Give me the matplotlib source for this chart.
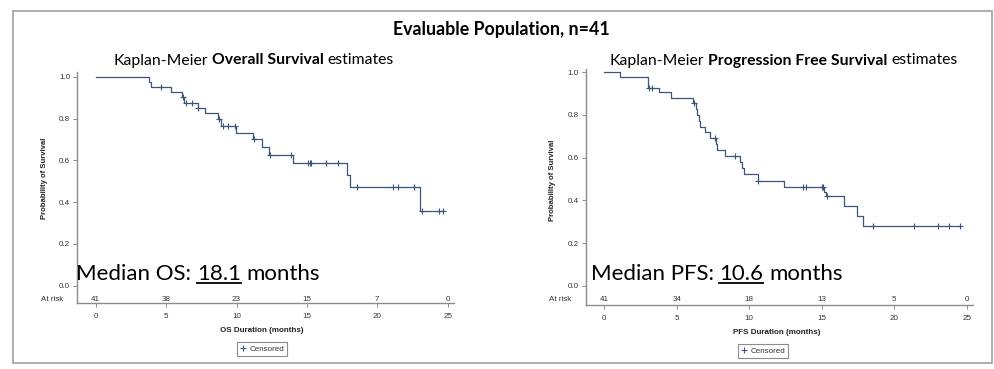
import matplotlib
matplotlib.use("Agg")
import matplotlib.pyplot as plt
import matplotlib.transforms as mtransforms
from matplotlib.lines import Line2D
from matplotlib.patches import Rectangle
import numpy as np

# --- datos ---
risk_times = [0, 5, 10, 15, 20, 25]

# Overall Survival
os_event_t = [3.81, 3.93, 5.32, 6.15, 6.25, 7.24, 7.76, 8.66, 8.87, 9.94,
              11.2, 11.81, 12.33, 14.03, 17.87, 18.08, 23.03]
os_event_s = [0.976, 0.953, 0.927, 0.901, 0.876, 0.852, 0.825, 0.796, 0.764, 0.732,
              0.702, 0.665, 0.627, 0.587, 0.531, 0.471, 0.356]
os_cens_t = [4.62, 6.2, 6.4, 6.83, 7.3, 8.78, 9.06, 9.39, 9.9, 11.27, 12.4, 13.85,
             15.1, 15.22, 15.31, 16.33, 17.23, 18.58, 21.09, 21.49, 22.63, 23.15,
             24.38, 24.69]
os_risk = [41, 38, 23, 15, 7, 0]

# Progression Free Survival
pfs_event_t = [1.08, 2.99, 3.77, 4.58, 6.14, 6.3, 6.37, 6.53, 6.6, 6.95, 7.29,
               7.7, 7.75, 8.33, 9.36, 9.52, 9.64, 10.58, 12.42, 15.18, 15.3,
               16.56, 17.46, 17.82]
pfs_event_s = [0.977, 0.928, 0.905, 0.877, 0.854, 0.826, 0.80, 0.772, 0.745, 0.718,
               0.69, 0.664, 0.637, 0.609, 0.58, 0.551, 0.522, 0.492, 0.463, 0.44,
               0.42, 0.375, 0.329, 0.282]
pfs_cens_t = [3.06, 3.31, 6.21, 7.64, 9.04, 10.62, 13.68, 13.9, 15.0, 15.06, 15.36,
              18.56, 21.39, 23.05, 23.8, 24.5]
pfs_risk = [41, 34, 18, 13, 5, 0]

main_title = "Evaluable Population, n=41"
os_title = [("Kaplan-Meier", "normal"), ("Overall Survival", "bold"), ("estimates", "normal")]
pfs_title = [("Kaplan-Meier", "normal"), ("Progression Free Survival", "bold"), ("estimates", "normal")]
os_median = [("Median OS:", "normal"), ("18.1", "normal"), ("months", "normal")]
pfs_median = [("Median PFS:", "normal"), ("10.6", "normal"), ("months", "normal")]

CURVE = "#3d5578"
GRIS = "#8c8c8c"
TXT = "#333333"
SANS = "Liberation Sans"
CAL = "Lato"

W, H = 994, 369
fig = plt.figure(figsize=(W / 100, H / 100), dpi=100)


def fx(px):
    return px / W


def fy(py):
    return 1 - py / H


def rich_text(x, y, parts, size, ha="left", underline=()):
    # texto con trozos en distinto peso; x, y en pixeles (y = linea base)
    r = fig.canvas.get_renderer()

    def ancho(s, w):
        t = fig.text(0, 0, s, fontsize=size, fontweight=w, family=CAL)
        a = t.get_window_extent(r).width
        t.remove()
        return a

    sp = ancho("n n", "normal") - ancho("nn", "normal")
    anchos = [ancho(s, w) for s, w in parts]
    total = sum(anchos) + sp * (len(parts) - 1)
    if ha == "center":
        x = x - total / 2
    for i, (s, w) in enumerate(parts):
        fig.text(fx(x), fy(y), s, fontsize=size, fontweight=w, family=CAL,
                 va="baseline", color="black")
        if i in underline:
            fig.add_artist(Line2D([fx(x), fx(x + anchos[i])], [fy(y + 2.5)] * 2,
                                  color="black", lw=1.3))
        x += anchos[i] + sp


def panel(box, xlim, ylim, ev_t, ev_s, cens_t, risk, risk_y, xlabel, lab):
    l, t, r, b = box
    ax = fig.add_axes([fx(l), fy(b), (r - l) / W, (b - t) / H])
    tt = np.r_[0, ev_t, max(cens_t)]
    ss = np.r_[1, ev_s, ev_s[-1]]
    ax.step(tt, ss, where="post", color=CURVE, lw=0.9)
    idx = np.searchsorted(ev_t, cens_t, side="right")
    ax.plot(cens_t, np.r_[1, ev_s][idx], ls="none", marker="+", ms=4.5,
            mew=0.8, color=CURVE)

    ax.set_xlim(*xlim)
    ax.set_ylim(*ylim)
    for s in ["top", "right"]:
        ax.spines[s].set_visible(False)
    for s in ["left", "bottom"]:
        ax.spines[s].set_color(GRIS)
        ax.spines[s].set_linewidth(1.0)
    ax.set_xticks(risk_times)
    ax.set_yticks([0, 0.2, 0.4, 0.6, 0.8, 1.0])
    ax.set_yticklabels([f"{v:.1f}" for v in [0, 0.2, 0.4, 0.6, 0.8, 1.0]])
    ax.tick_params(length=3, width=0.7, color=GRIS, labelsize=5.8,
                   labelcolor=TXT, pad=2)
    ax.tick_params(axis="x", pad=4)
    for tl in ax.get_xticklabels() + ax.get_yticklabels():
        tl.set_family(SANS)

    for x, n in zip(risk_times, risk):
        ax.text(x, risk_y, str(n), ha="center", va="center", fontsize=5.8,
                family=SANS, color=TXT)
    trans = mtransforms.blended_transform_factory(ax.transAxes, ax.transData)
    ax.text(-14 / (r - l), risk_y, "At risk", transform=trans, ha="right",
            va="center", fontsize=5.8, family=SANS, color=TXT)

    # etiquetas de ejes
    fig.text(fx(lab["ylab_x"]), fy(lab["ylab_y"]), "Probability of Survival",
             rotation=90, ha="center", va="center", fontsize=5.6,
             fontweight="bold", family=SANS, color="#222222")
    fig.text(fx(lab["xlab_x"]), fy(lab["xlab_y"]), xlabel, ha="center",
             va="center", fontsize=5.8, fontweight="bold", family=SANS,
             color="#222222")
    h = Line2D([], [], ls="none", marker="+", ms=4.5, mew=0.8, color=CURVE)
    leg = ax.legend([h], ["Censored"], loc="center",
                    bbox_to_anchor=(fx(lab["leg_x"]), fy(lab["leg_y"])),
                    bbox_transform=fig.transFigure, fancybox=False,
                    framealpha=1, edgecolor=GRIS, handlelength=0.8,
                    handletextpad=0.5, borderpad=0.35, borderaxespad=0,
                    prop={"family": SANS, "size": 5.8})
    leg.get_frame().set_linewidth(0.8)
    for tx in leg.get_texts():
        tx.set_color(TXT)
    return ax


ax1 = panel((77, 72.3, 454, 303.3), (-1.33, 25.45), (-0.084, 1.021),
            os_event_t, os_event_s, os_cens_t, os_risk, -0.064,
            "OS Duration (months)",
            dict(ylab_x=45, ylab_y=178, xlab_x=262, xlab_y=330,
                 leg_x=262, leg_y=349))
ax2 = panel((585.7, 68.7, 973, 305), (-1.28, 25.43), (-0.089, 1.016),
            pfs_event_t, pfs_event_s, pfs_cens_t, pfs_risk, -0.065,
            "PFS Duration (months)",
            dict(ylab_x=553, ylab_y=180, xlab_x=777, xlab_y=332,
                 leg_x=763, leg_y=351))

# marco exterior
fig.add_artist(Rectangle((fx(12.7), fy(363.3)), (991.7 - 12.7) / W, (363.3 - 10.7) / H,
                         transform=fig.transFigure, fill=False, edgecolor="#a0a0a0",
                         lw=1.2))

rich_text(501, 35.5, [(main_title, "bold")], 12.8, ha="center")
rich_text(253.5, 64.5, os_title, 11.3, ha="center")
rich_text(783.5, 64.5, pfs_title, 11.3, ha="center")
rich_text(76, 280.5, os_median, 16, underline=(1,))
rich_text(590.7, 280.5, pfs_median, 16, underline=(1,))

fig.savefig("out.png", dpi=100)
